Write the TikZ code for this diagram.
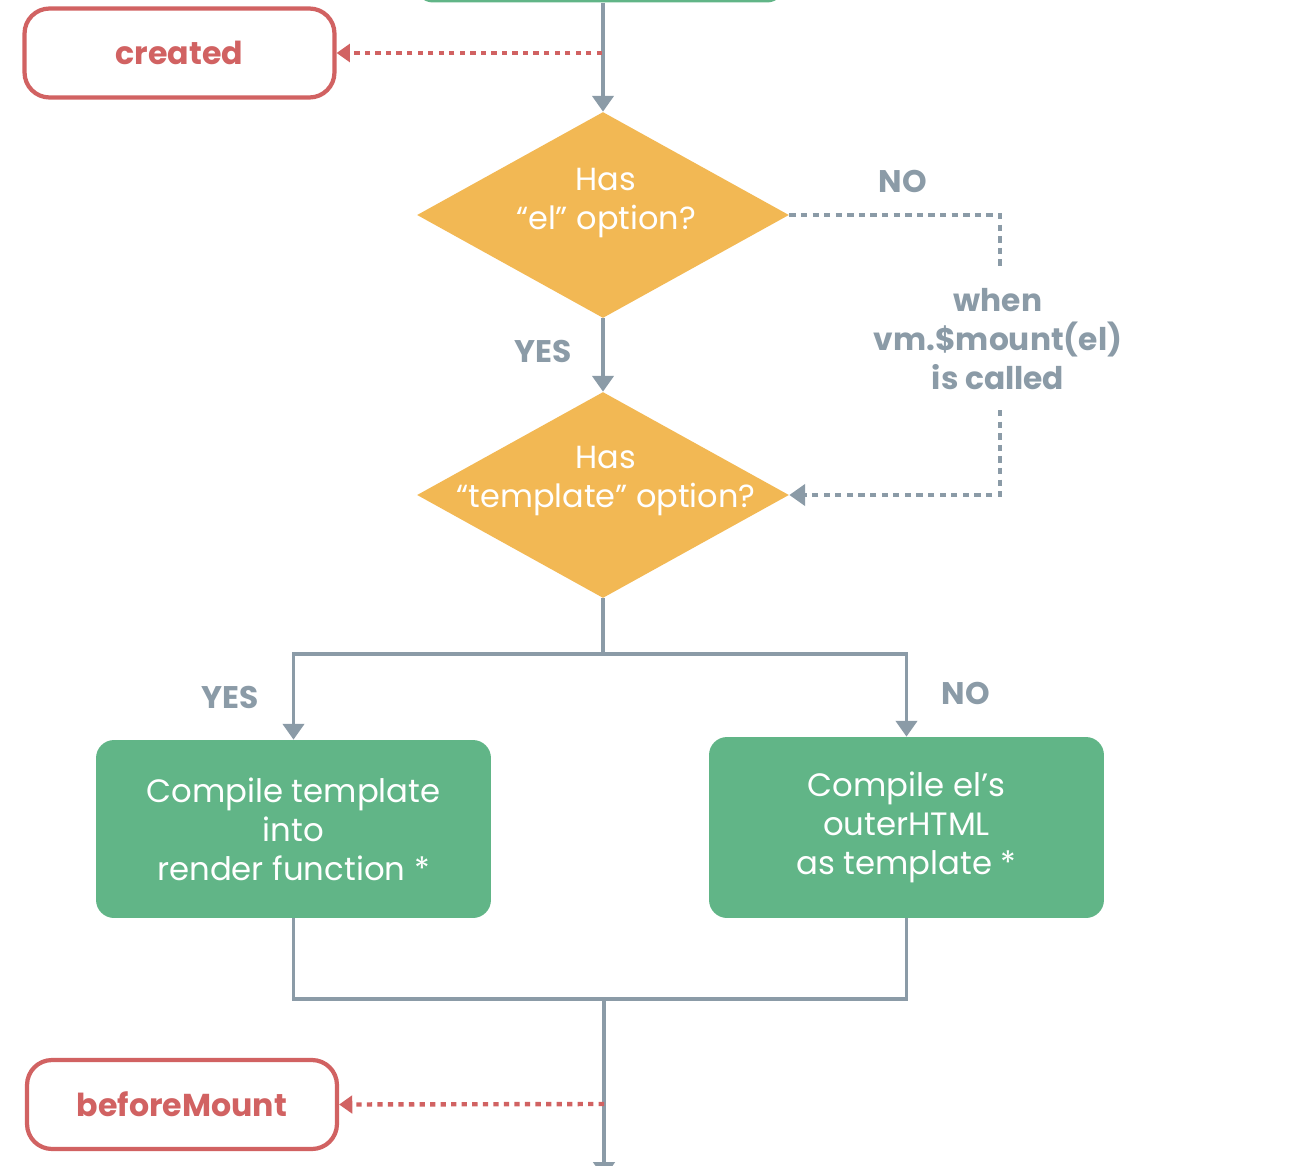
\documentclass[tikz,border=0pt]{standalone}
\usepackage{fontspec}
\setmainfont{Poppins}
\usetikzlibrary{shapes.geometric,arrows.meta}
\definecolor{vgray}{HTML}{8B9BA7}
\definecolor{vgreen}{HTML}{61B587}
\definecolor{vorange}{HTML}{F2B854}
\definecolor{vred}{HTML}{D16262}
\tikzset{
  flow/.style={draw=vgray, line width=2.2pt},
  garr/.style={-{Triangle[width=12pt,length=9pt]}},
  rarr/.style={-{Triangle[width=10pt,length=7.5pt]}},
  dotred/.style={draw=vred, line width=2.5pt, dash pattern=on 3pt off 3pt},
  dotgray/.style={draw=vgray, line width=2.5pt, dash pattern=on 3.6pt off 3pt},
  hook/.style={rectangle, rounded corners=0.5cm, draw=vred, line width=2.4pt, fill=white,
    minimum width=6.2cm, minimum height=1.78cm, text=vred,
    font=\bfseries\fontsize{18}{21}\selectfont},
  proc/.style={rectangle, rounded corners=0.36cm, fill=vgreen, minimum width=7.9cm,
    text=white, align=center, font=\fontsize{18.4}{22.2}\selectfont},
  decision/.style={diamond, fill=vorange, minimum width=7.44cm, minimum height=4.12cm, inner sep=0pt},
  dtext/.style={text=white, align=center, font=\fontsize{18.2}{22}\selectfont},
  lbl/.style={text=vgray, align=center, font=\bfseries\fontsize{17.8}{22.4}\selectfont}
}
\begin{document}
\begin{tikzpicture}[x=0.02cm, y=-0.02cm]
\useasboundingbox (0,0) rectangle (1296,1166);
\clip (0,0) rectangle (1296,1166);

% nodes
\node[proc, minimum width=7.4cm, minimum height=1.7cm] (init) at (600,-40) {};
\node[hook] (created) at (179.5,53) {created};
\node[decision] (d1) at (603,215) {};
\node[dtext] (d1t) at (606,203) {Has\\“el” option?};
\node[decision] (d2) at (603,495) {};
\node[dtext] (d2t) at (606,481) {Has\\“template” option?};
\node[proc, minimum height=3.56cm] (p1) at (293.5,829) {Compile template\\into\\render function *};
\node[proc, minimum height=3.62cm] (p2) at (906.5,827.5) {Compile el’s\\outerHTML\\as template *};
\node[hook] (bm) at (182,1104.5) {beforeMount};

\node[lbl] (yes1) at (543,351) {YES};
\node[lbl] (no1) at (903,181) {NO};
\node[lbl] (when) at (998,339) {when\\vm.\$mount(el)\\is called};
\node[lbl] (yes2) at (230,697) {YES};
\node[lbl] (no2) at (966,693) {NO};

% coordinates
\coordinate (cj) at (602,53);
\coordinate (n1) at (1000,270);
\coordinate (n2) at (1000,410);
\coordinate (br) at (603,654);
\coordinate (mg) at (604,999);
\coordinate (bj) at (604,1104);
\coordinate (out) at (604,1178);

% connectors
\draw[flow,garr] (init.south -| d1.north) -- (d1.north);
\draw[dotred,rarr,vred] (cj) -- (created.east);
\draw[flow,garr] (d1.south) -- (d2.north);
\draw[dotgray] (d1.east) -| (n1);
\draw[dotgray,garr,vgray] (n2) |- (d2.east);
\draw[flow] (d2.south) -- (br);
\draw[flow,garr] (br) -| (p1.north);
\draw[flow,garr] (br) -| (p2.north);
\draw[flow] (p1.south) |- (mg) -| (p2.south);
\draw[flow,garr] (mg) -- (out);
\draw[dotred,rarr,vred] (bj) -- (bm.east);
\end{tikzpicture}
\end{document}
